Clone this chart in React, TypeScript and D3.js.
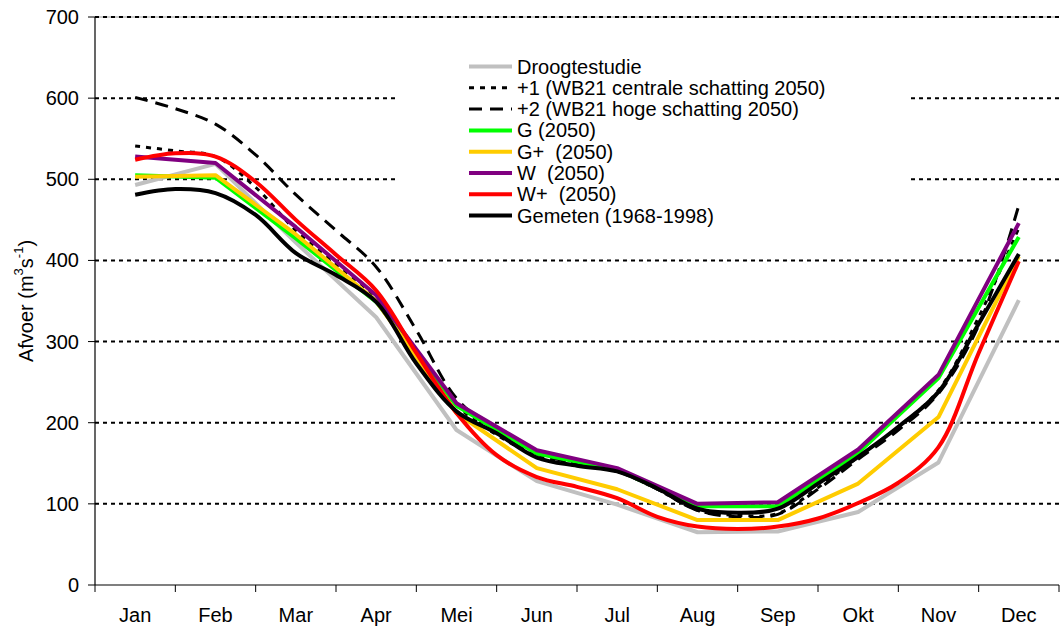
import React from "react";
import * as d3 from "d3";

const months = ["Jan", "Feb", "Mar", "Apr", "Mei", "Jun", "Jul", "Aug", "Sep", "Okt", "Nov", "Dec"];
const yTicks = [0, 100, 200, 300, 400, 500, 600, 700];

// monthly series (values at month centres)
const droogtestudie = [493, 519, 422, 330, 191, 128, 99, 65, 66, 90, 151, 351];
const gSeries = [505, 502, 427, 349, 221, 162, 142, 97, 97, 163, 255, 429];
const gPlus = [503, 505, 432, 350, 212, 144, 118, 80, 80, 125, 207, 405];
const wSeries = [528, 520, 441, 357, 224, 166, 144, 100, 102, 167, 259, 446];

// half-month series (month centre, month boundary, month centre, ...)
const plus1 = [541, 535, 528, 490, 437, 395, 354, 290, 222, 185, 160, 148, 140, 118, 92, 86, 88, 120, 158, 195, 240, 330, 440];
const plus2 = [601, 587, 568, 530, 481, 437, 392, 314, 230, 190, 162, 150, 140, 118, 92, 84, 87, 118, 155, 191, 236, 320, 468];
const wPlus = [524, 532, 528, 497, 450, 407, 363, 286, 212, 160, 133, 121, 107, 84, 72, 69, 72, 82, 101, 126, 170, 286, 399];
const gemeten = [481, 488, 483, 456, 409, 382, 349, 273, 214, 187, 157, 147, 140, 119, 94, 89, 94, 125, 158, 195, 238, 322, 408];

type Series = {
  name: string;
  values: number[];
  step: number; // in months
  color: string;
  width: number;
  dash?: string;
  smooth: boolean;
};

const series: Series[] = [
  { name: "Droogtestudie", values: droogtestudie, step: 1, color: "#c0c0c0", width: 4, smooth: false },
  { name: "+1 (WB21 centrale schatting 2050)", values: plus1, step: 0.5, color: "#000", width: 3, dash: "5 6", smooth: true },
  { name: "+2 (WB21 hoge schatting 2050)", values: plus2, step: 0.5, color: "#000", width: 3, dash: "13 8", smooth: true },
  { name: "G (2050)", values: gSeries, step: 1, color: "#00ff00", width: 4, smooth: false },
  { name: "G+  (2050)", values: gPlus, step: 1, color: "#ffcc00", width: 4, smooth: false },
  { name: "W  (2050)", values: wSeries, step: 1, color: "#800080", width: 4, smooth: false },
  { name: "W+  (2050)", values: wPlus, step: 0.5, color: "#ff0000", width: 4, smooth: true },
  { name: "Gemeten (1968-1998)", values: gemeten, step: 0.5, color: "#000", width: 4, smooth: true },
];

const W = 1060;
const H = 626;
const left = 95;
const right = 1059;
const top = 17;
const bottom = 585;
const font = "Arial, 'Liberation Sans', sans-serif";

export default function App() {
  const x = d3.scaleLinear().domain([0, 12]).range([left, right]);
  const y = d3.scaleLinear().domain([0, 700]).range([bottom, top]);

  const lineFor = (s: Series) =>
    d3
      .line<number>()
      .x((_, i) => x(0.5 + i * s.step))
      .y((v) => y(v))
      .curve(s.smooth ? d3.curveCatmullRom.alpha(0.5) : d3.curveLinear)(s.values) || "";

  const legendX = 469;
  const legendY0 = 66.5;
  const legendDy = 21.3;

  return (
    <svg width={W} height={H} style={{ position: "absolute", left: 0, top: 0, background: "#fff" }}>
      <rect x={0} y={0} width={W} height={H} fill="#fff" />
      {/* gridlines */}
      <line x1={left} x2={right} y1={y(700)} y2={y(700)} stroke="#999" strokeWidth={1} />
      {yTicks.filter((t) => t > 0).map((t) => (
        <line key={"g" + t} x1={left} x2={right} y1={y(t)} y2={y(t)} stroke="#000" strokeWidth={2} strokeDasharray="4 4" />
      ))}
      {/* legend background */}
      <rect x={395} y={38} width={512} height={194} fill="#fff" />
      {/* axes */}
      <line x1={left} x2={left} y1={top} y2={bottom} stroke="#000" strokeWidth={1.2} />
      <line x1={left} x2={right} y1={bottom} y2={bottom} stroke="#000" strokeWidth={1.2} />
      {yTicks.map((t) => (
        <g key={"yt" + t}>
          <line x1={left - 7} x2={left} y1={y(t)} y2={y(t)} stroke="#000" strokeWidth={1} />
          <text x={79} y={y(t)} textAnchor="end" dominantBaseline="central" fontFamily={font} fontSize={20}>
            {t}
          </text>
        </g>
      ))}
      {d3.range(13).map((i) => (
        <line key={"xt" + i} x1={x(i)} x2={x(i)} y1={bottom} y2={bottom + 7} stroke="#000" strokeWidth={1} />
      ))}
      {months.map((m, i) => (
        <text key={m} x={x(i + 0.5)} y={615} textAnchor="middle" dominantBaseline="central" fontFamily={font} fontSize={20}>
          {m}
        </text>
      ))}
      <text
        transform={`translate(26,${y(350)}) rotate(-90)`}
        textAnchor="middle"
        dominantBaseline="central"
        fontFamily={font}
        fontSize={20}
      >
        Afvoer (m
        <tspan baselineShift="super" fontSize={13}>3</tspan>
        s
        <tspan baselineShift="super" fontSize={13}>-1</tspan>)
      </text>
      {/* series */}
      {series.map((s) => (
        <path
          key={s.name}
          d={lineFor(s)}
          fill="none"
          stroke={s.color}
          strokeWidth={s.width}
          strokeDasharray={s.dash}
          strokeLinejoin="round"
        />
      ))}
      {/* legend */}
      {series.map((s, i) => (
        <g key={"lg" + s.name}>
          <line
            x1={legendX}
            x2={legendX + 43}
            y1={legendY0 + i * legendDy}
            y2={legendY0 + i * legendDy}
            stroke={s.color}
            strokeWidth={s.width}
            strokeDasharray={s.dash}
          />
          <text
            x={legendX + 48}
            y={legendY0 + i * legendDy}
            dominantBaseline="central"
            fontFamily={font}
            fontSize={20}
            style={{ whiteSpace: "pre" }}
          >
            {s.name}
          </text>
        </g>
      ))}
    </svg>
  );
}
